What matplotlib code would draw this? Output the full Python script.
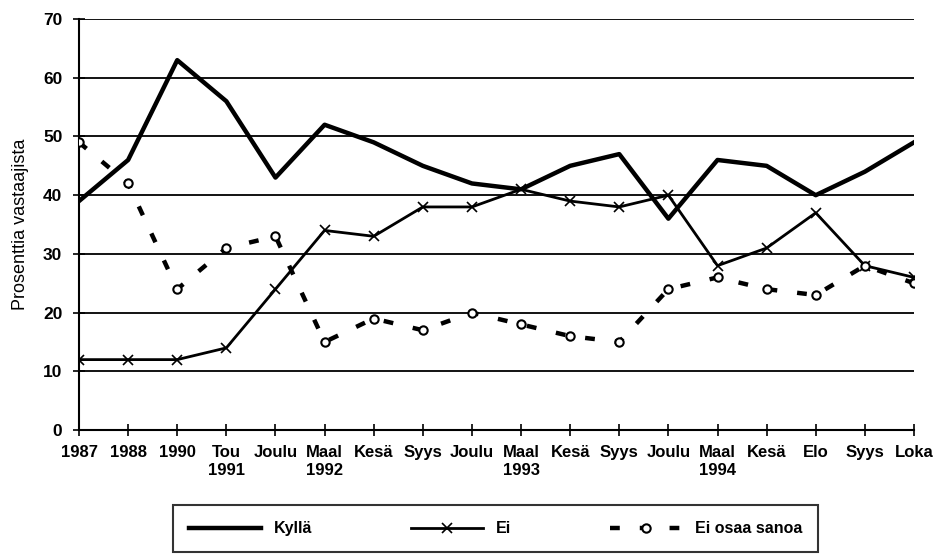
import numpy as np
import matplotlib.pyplot as plt

# kyselyajankohdat
labels = ['1987', '1988', '1990', 'Tou\n1991', 'Joulu', 'Maal\n1992', 'Kesä', 'Syys',
          'Joulu', 'Maal\n1993', 'Kesä', 'Syys', 'Joulu', 'Maal\n1994', 'Kesä', 'Elo',
          'Syys', 'Loka']
kylla = [39, 46, 63, 56, 43, 52, 49, 45, 42, 41, 45, 47, 36, 46, 45, 40, 44, 49]
ei = [12, 12, 12, 14, 24, 34, 33, 38, 38, 41, 39, 38, 40, 28, 31, 37, 28, 26]
eos = [49, 42, 24, 31, 33, 15, 19, 17, 20, 18, 16, 15, 24, 26, 24, 23, 28, 25]

plt.rcParams['font.family'] = ['Liberation Sans', 'DejaVu Sans']

fig = plt.figure(figsize=(9.35, 5.6), dpi=100)
ax = fig.add_axes([0.0845, 0.232, 0.893, 0.734])

x = np.arange(len(labels))
ax.plot(x, kylla, color='black', lw=3.2, label='Kyllä', zorder=3)
ax.plot(x, ei, color='black', lw=2, marker='x', ms=7, mew=1.2, label='Ei', zorder=3)
ax.plot(x, eos, color='black', lw=3.2, ls=(0, (2.2, 4.5)), marker='o', ms=6,
        mfc='white', mec='black', mew=1.5, label='Ei osaa sanoa', zorder=3)

ax.set_xlim(0, len(labels) - 1)
ax.set_ylim(0, 70)
ax.set_yticks(range(0, 71, 10))
ax.set_xticks(x)
ax.set_xticklabels(labels, fontsize=12, fontweight='bold')
ax.tick_params(axis='y', labelsize=12.5, direction='inout', length=8, width=1.2, pad=8)
ax.tick_params(axis='x', direction='inout', length=8, width=1.2, pad=7)
for lab in ax.get_yticklabels():
    lab.set_fontweight('bold')

ax.grid(axis='y', color='black', lw=1.3)
ax.set_axisbelow(True)
for s in ['top', 'right']:
    ax.spines[s].set_visible(False)
ax.spines['left'].set_linewidth(1.5)
ax.spines['bottom'].set_linewidth(1.5)

ax.set_ylabel('Prosenttia vastaajista', fontsize=13, labelpad=10)

leg = fig.legend(loc='lower left', bbox_to_anchor=(0.185, 0.014, 0.69, 0.079),
                 mode='expand', ncol=3, frameon=True, fancybox=False,
                 fontsize=11.5, handlelength=4.5, borderaxespad=0, borderpad=1.0)
leg.get_frame().set_edgecolor('black')
leg.get_frame().set_linewidth(1.5)
for t in leg.get_texts():
    t.set_fontweight('bold')

fig.savefig('out.png', dpi=100)
